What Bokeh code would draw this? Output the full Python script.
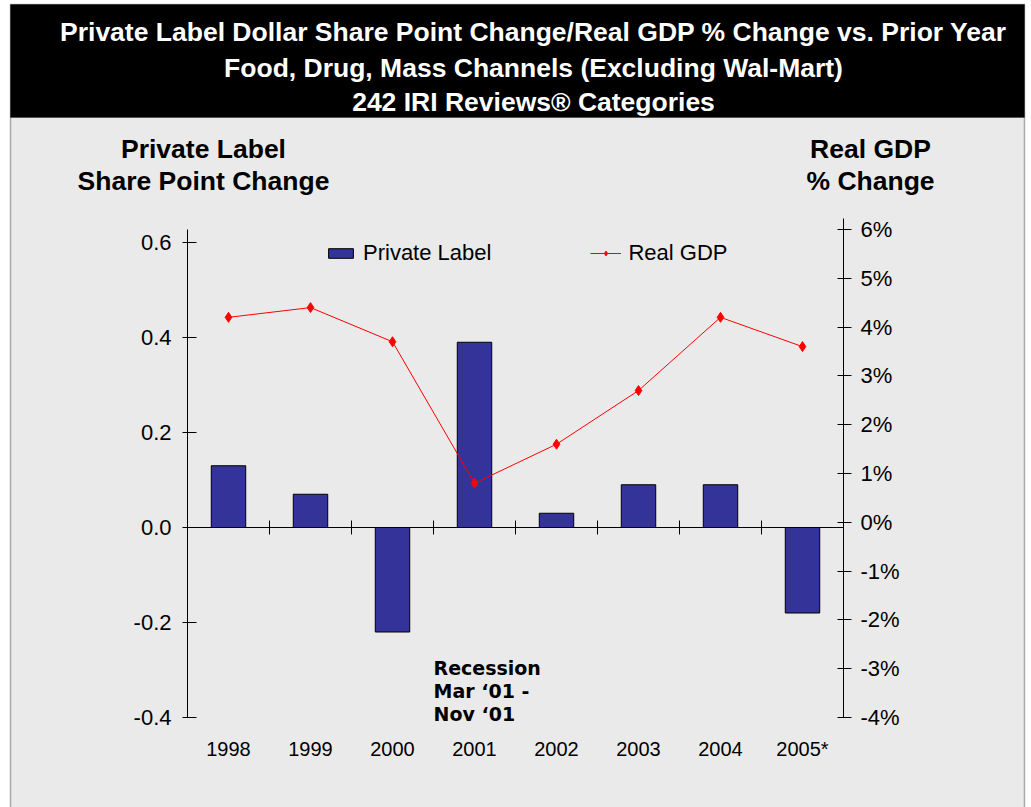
from bokeh.plotting import figure
from bokeh.models import (Range1d, LinearAxis, FixedTicker, NumeralTickFormatter,
                          PrintfTickFormatter, Label, BoxAnnotation, Legend, LegendItem,
                          ColumnDataSource)
from bokeh.embed import file_html
from bokeh.resources import INLINE

# ---- data ----
years = ["1998", "1999", "2000", "2001", "2002", "2003", "2004", "2005*"]
private_label = [0.13, 0.07, -0.22, 0.39, 0.03, 0.09, 0.09, -0.18]
real_gdp = [4.2, 4.4, 3.7, 0.8, 1.6, 2.7, 4.2, 3.6]
left_ticks = [-0.4, -0.2, 0.0, 0.2, 0.4, 0.6]
right_ticks = [-4, -3, -2, -1, 0, 1, 2, 3, 4, 5, 6]

title_lines = ["Private Label Dollar Share Point Change/Real GDP % Change vs. Prior Year",
               "Food, Drug, Mass Channels (Excluding Wal-Mart)",
               "242 IRI Reviews\u00ae Categories"]
left_title = ["Private Label", "Share Point Change"]
right_title = ["Real GDP", "% Change"]
note_lines = ["Recession", "Mar \u201801 -", "Nov \u201801"]

# ---- layout constants (canvas pixels) ----
W, H = 1031, 807
GRAY = "#EAEAEA"
FONT = "Liberation Sans"
PX_L, PX_R = 187, 843          # plot area left / right
PX_TOP_L, PX_BOT = 242, 717    # y of left-axis top tick (0.6) and bottom (-0.4)
PX_TOP_R = 229                 # y of right-axis top tick (6%)

n = len(years)
centers = [i + 0.5 for i in range(n)]
boundaries = list(range(1, n))

ux = (PX_R - PX_L) / n
uy = (PX_BOT - PX_TOP_L) / (left_ticks[-1] - left_ticks[0])
ug = (PX_BOT - PX_TOP_R) / (right_ticks[-1] - right_ticks[0])

x_range = Range1d(-PX_L / ux, n + (W - PX_R) / ux)
y_range = Range1d(left_ticks[0] - (H - PX_BOT) / uy, left_ticks[-1] + PX_TOP_L / uy)
g_range = Range1d(right_ticks[0] - (H - PX_BOT) / ug, right_ticks[-1] + PX_TOP_R / ug)

src = ColumnDataSource(dict(x=centers, pl=private_label, gdp=real_gdp))

p = figure(width=W, height=H, output_backend="svg", toolbar_location=None,
           x_range=x_range, y_range=y_range,
           min_border=0, min_border_left=0, min_border_right=0,
           min_border_top=0, min_border_bottom=0)
p.extra_y_ranges = {"gdp": g_range}
p.title.visible = False

p.background_fill_color = "white"
p.border_fill_color = "white"
p.outline_line_color = None
p.xgrid.visible = False
p.ygrid.visible = False


def sbox(left, right, top, bottom, **kw):
    # box given in canvas pixels (y measured from top)
    return BoxAnnotation(left=left, right=right, top=H - top, bottom=H - bottom,
                         left_units="screen", right_units="screen",
                         top_units="screen", bottom_units="screen", **kw)


# backgrounds / frame
p.add_layout(sbox(10, 1024, 117, H + 10, fill_color=GRAY, fill_alpha=1,
                  line_color=None, level="underlay"))
p.add_layout(sbox(10, 1024, 4, 117, fill_color="black", fill_alpha=1,
                  line_color="black", level="underlay"))
p.add_layout(sbox(10, 1024, 4, H + 10, fill_alpha=0, line_color="black",
                  line_width=1.5, level="underlay"))

# bars
bars = p.vbar(x="x", top="pl", bottom=0, width=0.42, source=src,
              fill_color="#333399", line_color="black", line_width=1)
# gdp line
gl = p.line(x="x", y="gdp", source=src, y_range_name="gdp", line_color="#FF0000", line_width=1)
gm = p.scatter(x="x", y="gdp", source=src, y_range_name="gdp", marker="diamond", size=10,
               fill_color="#FF0000", line_color="#FF0000")

# x labels axis (at bottom of plot area)
xa = p.xaxis[0]
xa.fixed_location = left_ticks[0]
xa.ticker = FixedTicker(ticks=centers)
xa.major_label_overrides = {c: y for c, y in zip(centers, years)}
xa.axis_line_color = None
xa.major_tick_line_color = None
xa.minor_tick_line_color = None
xa.major_tick_out = 0
xa.major_tick_in = 0
xa.major_label_standoff = 20
xa.major_label_text_font = FONT
xa.major_label_text_font_size = "20px"
xa.major_label_text_color = "black"

# left axis
ya = p.yaxis[0]
ya.fixed_location = 0
ya.bounds = (left_ticks[0], left_ticks[-1] + (PX_TOP_L - PX_TOP_R) / uy)
ya.ticker = FixedTicker(ticks=left_ticks)
ya.formatter = NumeralTickFormatter(format="0.0")
ya.major_tick_in = 9
ya.major_tick_out = 5
ya.minor_tick_line_color = None
ya.major_label_standoff = 11
ya.major_label_text_font = FONT
ya.major_label_text_font_size = "22px"
ya.major_label_text_color = "black"
ya.axis_line_color = "black"
ya.major_tick_line_color = "black"

# right axis
ra = LinearAxis(y_range_name="gdp", fixed_location=n, bounds=(right_ticks[0], right_ticks[-1] + 0.22),
                ticker=FixedTicker(ticks=right_ticks),
                formatter=PrintfTickFormatter(format="%d%%"),
                major_tick_in=6, major_tick_out=8, minor_tick_line_color=None,
                major_label_standoff=9, major_label_text_font=FONT,
                major_label_text_font_size="22px", major_label_text_color="black",
                axis_line_color="black", major_tick_line_color="black")
p.add_layout(ra, "right")

# zero line with category boundary ticks
za = LinearAxis(fixed_location=0, bounds=(0, n), ticker=FixedTicker(ticks=boundaries),
                major_label_overrides={t: "" for t in boundaries},
                major_tick_in=7, major_tick_out=7, minor_tick_line_color=None,
                axis_line_color="black", major_tick_line_color="black")
p.add_layout(za, "below")

# legend
legend = Legend(items=[LegendItem(label="Private Label", renderers=[bars]),
                       LegendItem(label="Real GDP", renderers=[gl, gm])],
                orientation="horizontal", location=(325, H - 266),
                background_fill_alpha=0, border_line_color=None,
                spacing=99, glyph_width=31, glyph_height=12, label_standoff=7,
                padding=0, margin=0, label_text_font=FONT, label_text_font_size="22px",
                label_text_color="black")
p.add_layout(legend)


def slabel(text, x, y, **kw):
    # label at canvas pixels (y measured from top)
    return Label(x=x, y=H - y, x_units="screen", y_units="screen", text=text,
                 text_baseline="middle", **kw)


for t, yy in zip(title_lines, [31, 67, 101]):
    p.add_layout(slabel(t, 533, yy, text_align="center", text_color="white",
                        text_font=FONT, text_font_style="bold", text_font_size="26.5px"))
for t, yy in zip(left_title, [148, 180]):
    p.add_layout(slabel(t, 203, yy, text_align="center", text_color="black",
                        text_font=FONT, text_font_style="bold", text_font_size="26.5px"))
for t, yy in zip(right_title, [148, 180]):
    p.add_layout(slabel(t, 870, yy, text_align="center", text_color="black",
                        text_font=FONT, text_font_style="bold", text_font_size="26.5px"))
for t, yy in zip(note_lines, [667, 690, 713]):
    p.add_layout(slabel(t, 433, yy, text_align="left", text_color="black",
                        text_font="DejaVu Sans", text_font_style="bold", text_font_size="19px"))

open("out.html", "w").write(file_html(p, INLINE))
